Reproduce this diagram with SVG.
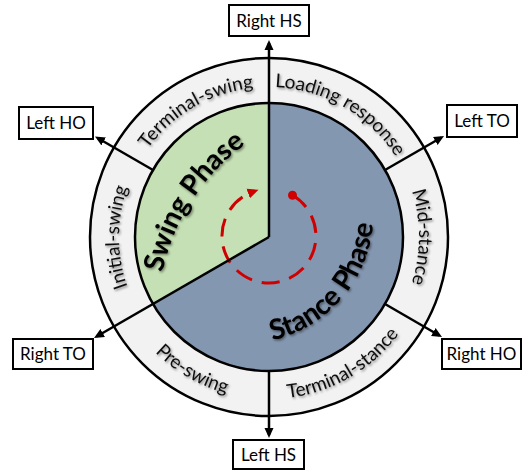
<svg xmlns="http://www.w3.org/2000/svg" width="524" height="471" viewBox="0 0 524 471">
<defs>
<style>
.box{fill:#fff;stroke:#000;stroke-width:2}
.bl{font-family:Lato,"Liberation Sans",sans-serif;font-size:17px;fill:#000;text-anchor:middle}
.rl{font-family:Lato,"Liberation Sans",sans-serif;font-size:19px;fill:#111;text-anchor:middle}
.ph{font-family:Lato,"Liberation Sans",sans-serif;font-weight:bold;font-size:28px;fill:#000;text-anchor:middle}
.cn{stroke:#000;stroke-width:2.5;fill:none}
</style>
<filter id="sh" x="-10%" y="-10%" width="120%" height="120%">
<feDropShadow dx="1.2" dy="1.5" stdDeviation="0.9" flood-color="#000" flood-opacity="0.45"/>
</filter>
<marker id="ah" markerUnits="userSpaceOnUse" markerWidth="11" markerHeight="10" refX="7" refY="5" orient="auto">
<path d="M0,0.5 L10,5 L0,9.5 z" fill="#000"/>
</marker>
<marker id="rh" markerUnits="userSpaceOnUse" markerWidth="12" markerHeight="12" refX="5" refY="6" orient="auto">
<path d="M0,1 L11,6 L0,11 z" fill="#d00000"/>
</marker>
<path id="pLR" d="M269,87 A150,150 0 0 1 398.9,162"/>
<path id="pMS" d="M398.9,162 A150,150 0 0 1 398.9,312"/>
<path id="pIS" d="M139.1,312 A150,150 0 0 1 139.1,162"/>
<path id="pTW" d="M139.1,162 A150,150 0 0 1 269,87"/>
<path id="pTS" d="M269,399 A162,162 0 0 0 409.3,318"/>
<path id="pPS" d="M128.7,318 A162,162 0 0 0 269,399"/>
<path id="pSW" d="M159.7,340.4 A210,210 0 0 1 306.7,114"/>
<path id="pST" d="M253,343.2 A130,130 0 0 0 373.1,204.1"/>
</defs>

<g id="wheel">
<circle cx="269" cy="237" r="179" fill="#f2f2f2" stroke="#000" stroke-width="2.5"/>
<circle cx="269" cy="237" r="134" fill="#8497b0"/>
<path d="M269,237 L269,103 A134,134 0 0 0 153,304 Z" fill="#c5e0b4"/>
<circle cx="269" cy="237" r="134" fill="none" stroke="#000" stroke-width="2.5"/>
</g>

<g id="phases" filter="url(#sh)">
<text class="ph"><textPath href="#pSW" startOffset="50%">Swing Phase</textPath></text>
<text class="ph"><textPath href="#pST" startOffset="50%">Stance Phase</textPath></text>
</g>

<g id="cycle">
<path d="M292.5,195.3 A47,47 0 1 1 252.9,191.8" fill="none" stroke="#d00000" stroke-width="3" stroke-dasharray="18 10" marker-end="url(#rh)"/>
<circle cx="292.5" cy="195.3" r="4.5" fill="#d00000"/>
</g>

<g id="ring-labels" filter="url(#sh)">
<text class="rl"><textPath href="#pLR" startOffset="50%">Loading response</textPath></text>
<text class="rl"><textPath href="#pMS" startOffset="50%">Mid-stance</textPath></text>
<text class="rl"><textPath href="#pTS" startOffset="50%">Terminal-stance</textPath></text>
<text class="rl"><textPath href="#pPS" startOffset="50%">Pre-swing</textPath></text>
<text class="rl"><textPath href="#pIS" startOffset="50%">Initial-swing</textPath></text>
<text class="rl"><textPath href="#pTW" startOffset="50%">Terminal-swing</textPath></text>
</g>

<g id="connectors" class="cn">
<path d="M269,237 L269,43" marker-end="url(#ah)"/>
<path d="M269,237 L96.6,336.5" marker-end="url(#ah)"/>
<path d="M153,170 L97.6,138" marker-end="url(#ah)"/>
<path d="M385,170 L441.4,137.5" marker-end="url(#ah)"/>
<path d="M385,304 L439.4,335.5" marker-end="url(#ah)"/>
<path d="M269,371 L269,435" marker-end="url(#ah)"/>
</g>

<g id="right-hs"><rect class="box" x="229" y="5" width="80" height="31"/><text class="bl" x="269" y="26.5">Right HS</text></g>
<g id="left-ho"><rect class="box" x="19" y="107" width="74" height="32"/><text class="bl" x="56" y="129">Left HO</text></g>
<g id="left-to"><rect class="box" x="447" y="105" width="70" height="32"/><text class="bl" x="482" y="127">Left TO</text></g>
<g id="right-to"><rect class="box" x="13" y="339" width="80" height="30"/><text class="bl" x="53" y="360">Right TO</text></g>
<g id="right-ho"><rect class="box" x="442" y="339" width="79" height="30"/><text class="bl" x="481.5" y="360">Right HO</text></g>
<g id="left-hs"><rect class="box" x="233" y="440" width="71" height="29"/><text class="bl" x="268.5" y="460.5">Left HS</text></g>
</svg>
